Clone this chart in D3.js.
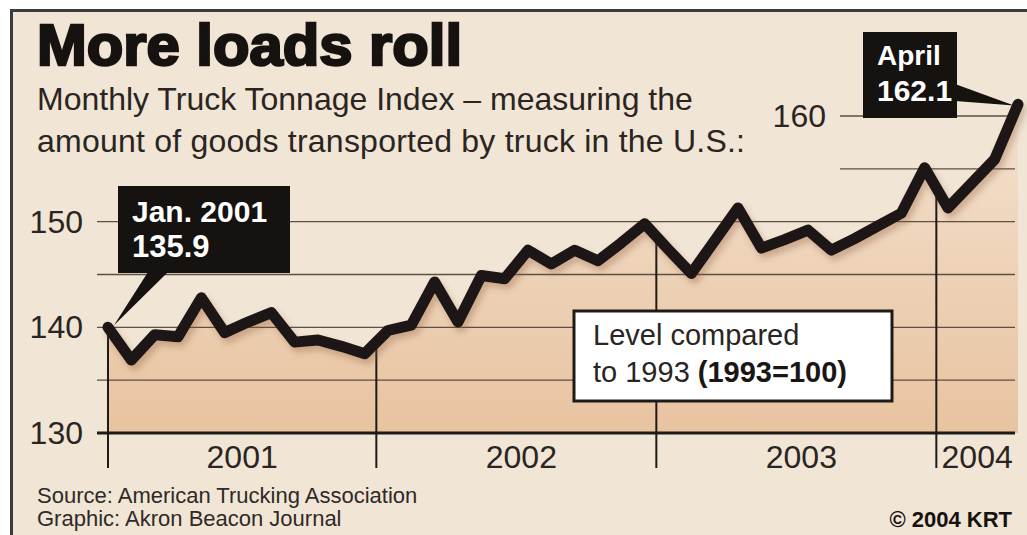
<!DOCTYPE html>
<html>
<head>
<meta charset="utf-8">
<script src="https://cdn.jsdelivr.net/npm/d3@7"></script>
<style>
  body { margin: 0; background: #fff; }
  svg { display: block; font-family: "Liberation Sans", Arial, sans-serif; }
</style>
</head>
<body>
<div id="chart"></div>
<script>
// monthly truck tonnage index, Jan 2001 - Apr 2004 (1993 = 100)
const months = d3.timeMonths(new Date(2001, 0, 1), new Date(2004, 4, 1));
const tonnage = [140.0, 136.9, 139.3, 139.1, 142.8, 139.5, 140.5, 141.4, 138.6, 138.8,
                 138.2, 137.5, 139.7, 140.2, 144.3, 140.5, 144.9, 144.6, 147.3, 146.0,
                 147.3, 146.3, 148.0, 149.8, 147.4, 145.1, 148.2, 151.3, 147.5, 148.3,
                 149.2, 147.3, 148.4, 149.6, 150.8, 155.1, 151.3, 153.6, 155.9, 161.1];
const years = ["2001", "2002", "2003", "2004"];
const tickLabels = [130, 140, 150, 160];
const gridValues = [135, 140, 145, 150, 155, 160];

const width = 1027, height = 535;

const svg = d3.select("#chart")
    .append("svg")
    .attr("width", width)
    .attr("height", height);

const defs = svg.append("defs");
const grad = defs.append("linearGradient")
    .attr("id", "areaFill")
    .attr("gradientUnits", "userSpaceOnUse")
    .attr("x1", 0).attr("x2", 0)
    .attr("y1", 100).attr("y2", 433);
grad.append("stop").attr("offset", "0%").attr("stop-color", "#f3e2cf");
grad.append("stop").attr("offset", "100%").attr("stop-color", "#e8c3a0");

const shadow = defs.append("filter").attr("id", "shadow")
    .attr("x", "-5%").attr("y", "-20%").attr("width", "110%").attr("height", "140%");
shadow.append("feDropShadow")
    .attr("dx", 3).attr("dy", 5).attr("stdDeviation", 3)
    .attr("flood-color", "#8a5a3a").attr("flood-opacity", 0.35);

// frame
svg.append("rect")
    .attr("x", 11.5).attr("y", 10.5)
    .attr("width", 1040).attr("height", 540)
    .attr("fill", "#f1e5d5")
    .attr("stroke", "#3b3b3b")
    .attr("stroke-width", 3);

const xScale = d3.scaleLinear()
    .domain([0, months.length - 1])
    .range([108, 1018]);

const yScale = d3.scaleLinear()
    .domain([130, 160])
    .range([433, 116]);

const data = months.map((m, i) => ({i: i, date: m, value: tonnage[i]}));

// area under the line
const area = d3.area()
    .x(d => xScale(d.i))
    .y0(yScale(130))
    .y1(d => yScale(d.value));

svg.append("path")
    .datum(data)
    .attr("d", area)
    .attr("fill", "url(#areaFill)");

// gridlines
svg.append("g")
    .selectAll("line")
    .data(gridValues)
    .join("line")
    .attr("x1", d => d >= 155 ? 840 : 97)
    .attr("x2", 1015)
    .attr("y1", d => yScale(d))
    .attr("y2", d => yScale(d))
    .attr("stroke", "#5d4f43")
    .attr("stroke-width", 1.3);

// y labels
svg.append("g")
    .selectAll("text")
    .data(tickLabels)
    .join("text")
    .attr("x", d => d == 160 ? 826 : 83)
    .attr("y", d => yScale(d) + 11)
    .attr("text-anchor", "end")
    .attr("font-size", "32px")
    .attr("fill", "#2a2522")
    .text(d => d);

// year dividers, at the Dec/Jan boundary
const lineAt = function (m) {
    const lo = Math.floor(m), hi = Math.ceil(m);
    return tonnage[lo] + (tonnage[hi] - tonnage[lo]) * (m - lo);
};
const bounds = years.map((y, k) => k == 0 ? 0 : k * 12 - 0.5);

svg.append("g")
    .selectAll("line")
    .data(bounds)
    .join("line")
    .attr("x1", d => xScale(d))
    .attr("x2", d => xScale(d))
    .attr("y1", d => yScale(lineAt(d)))
    .attr("y2", 468)
    .attr("stroke", "#1e1a18")
    .attr("stroke-width", 2);

// baseline
svg.append("line")
    .attr("x1", 97).attr("x2", 1015)
    .attr("y1", yScale(130)).attr("y2", yScale(130))
    .attr("stroke", "#1e1a18")
    .attr("stroke-width", 3);

// year labels
svg.append("g")
    .selectAll("text")
    .data(years)
    .join("text")
    .attr("x", (d, k) => {
        const a = xScale(bounds[k]);
        const b = k < years.length - 1 ? xScale(bounds[k + 1]) : xScale(months.length - 1);
        return (a + b) / 2 + (k == 0 || k == 3 ? 0 : 5);
    })
    .attr("y", 468)
    .attr("text-anchor", "middle")
    .attr("font-size", "32px")
    .attr("fill", "#2a2522")
    .text(d => d);

// the line
const line = d3.line()
    .x(d => xScale(d.i))
    .y(d => yScale(d.value));

svg.append("path")
    .datum(data)
    .attr("d", line)
    .attr("fill", "none")
    .attr("stroke", "#1c1513")
    .attr("stroke-width", 11)
    .attr("stroke-linejoin", "round")
    .attr("stroke-linecap", "round")
    .attr("filter", "url(#shadow)");

// title + subtitle
svg.append("text")
    .attr("x", 37).attr("y", 65)
    .attr("font-size", "58px")
    .attr("font-weight", "bold")
    .attr("fill", "#161210")
    .attr("stroke", "#161210")
    .attr("stroke-width", 2.5)
    .attr("textLength", 425)
    .attr("lengthAdjust", "spacingAndGlyphs")
    .text("More loads roll");

svg.append("text")
    .attr("x", 37).attr("y", 110)
    .attr("font-size", "32px")
    .attr("fill", "#2a2522")
    .text("Monthly Truck Tonnage Index \u2013 measuring the");
svg.append("text")
    .attr("x", 37).attr("y", 152)
    .attr("font-size", "32px")
    .attr("fill", "#2a2522")
    .attr("textLength", 708)
    .attr("lengthAdjust", "spacing")
    .text("amount of goods transported by truck in the U.S.:");

// callout: first month
const first = data[0], last = data[data.length - 1];
const c1 = svg.append("g");
c1.append("path")
    .attr("d", `M148,272 L168,272 L${xScale(first.i) + 6},${yScale(first.value) - 2} Z`)
    .attr("fill", "#161210");
c1.append("rect")
    .attr("x", 118).attr("y", 186).attr("width", 172).attr("height", 87)
    .attr("fill", "#161210");
c1.append("text")
    .attr("x", 132).attr("y", 222)
    .attr("font-size", "30px").attr("font-weight", "bold").attr("fill", "#fff")
    .text("Jan. 2001");
c1.append("text")
    .attr("x", 132).attr("y", 257)
    .attr("font-size", "31px").attr("font-weight", "bold").attr("fill", "#fff")
    .text("135.9");

// callout: last month
const c2 = svg.append("g");
c2.append("path")
    .attr("d", `M955,84 L955,101 L${xScale(last.i) - 4},${yScale(last.value) + 1} Z`)
    .attr("fill", "#161210");
c2.append("rect")
    .attr("x", 863).attr("y", 32).attr("width", 94).attr("height", 86)
    .attr("fill", "#161210");
c2.append("text")
    .attr("x", 877).attr("y", 65)
    .attr("font-size", "28px").attr("font-weight", "bold").attr("fill", "#fff")
    .text("April");
c2.append("text")
    .attr("x", 877).attr("y", 101)
    .attr("font-size", "30px").attr("font-weight", "bold").attr("fill", "#fff")
    .text("162.1");

// note box
const note = svg.append("g");
note.append("rect")
    .attr("x", 574).attr("y", 311).attr("width", 318).attr("height", 90)
    .attr("fill", "#fff")
    .attr("stroke", "#1e1a18")
    .attr("stroke-width", 3);
note.append("text")
    .attr("x", 593).attr("y", 345)
    .attr("font-size", "29px").attr("fill", "#2a2522")
    .text("Level compared");
const l2 = note.append("text")
    .attr("x", 593).attr("y", 382)
    .attr("font-size", "29px").attr("fill", "#2a2522");
l2.append("tspan").text("to 1993 ");
l2.append("tspan").attr("font-weight", "bold").attr("fill", "#1a1614").text("(1993=100)");

// footer
svg.append("text")
    .attr("x", 37).attr("y", 503)
    .attr("font-size", "22px").attr("fill", "#2e2a27")
    .text("Source: American Trucking Association");
svg.append("text")
    .attr("x", 37).attr("y", 526)
    .attr("font-size", "22px").attr("fill", "#2e2a27")
    .text("Graphic: Akron Beacon Journal");
svg.append("text")
    .attr("x", 1012).attr("y", 527)
    .attr("text-anchor", "end")
    .attr("font-size", "22px").attr("font-weight", "bold").attr("fill", "#161210")
    .text("\u00a9 2004 KRT");
</script>
</body>
</html>
